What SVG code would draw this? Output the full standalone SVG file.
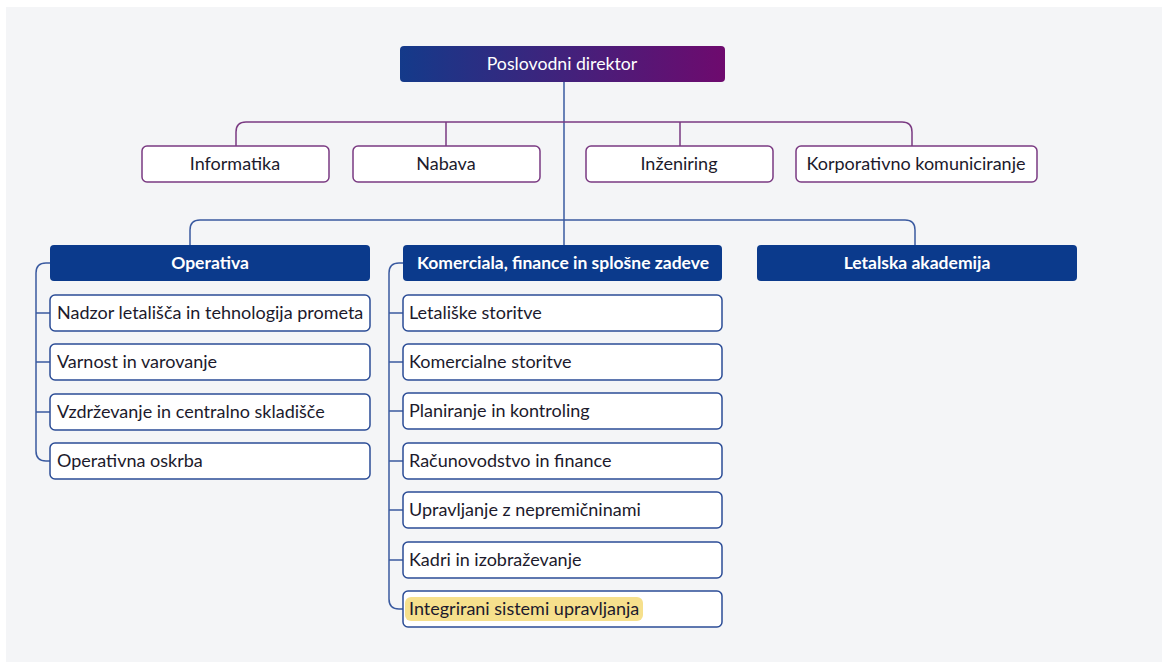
<svg xmlns="http://www.w3.org/2000/svg" width="1162" height="662" viewBox="0 0 1162 662">
<defs>
<linearGradient id="gTop" x1="0" y1="0" x2="1" y2="0">
<stop offset="0" stop-color="#143a8a"/>
<stop offset="1" stop-color="#6e0a6e"/>
</linearGradient>
</defs>
<style>
text{font-family:Lato,"Liberation Sans",Arial,sans-serif;font-size:18px;fill:#1c1a2c}
.hd{fill:#ffffff;font-weight:bold;font-size:17.5px}
.mid{text-anchor:middle}
.pbox{fill:#ffffff;stroke:#7a3a82;stroke-width:1.5}
.bbox{fill:#ffffff;stroke:#2b4c96;stroke-width:1.5}
.hbox{fill:#0b3a8c}
.pl{fill:none;stroke:#7a3a82;stroke-width:1.5}
.bl{fill:none;stroke:#3a5aa0;stroke-width:1.5}
</style>
<rect x="6" y="7" width="1156" height="655" fill="#f4f5f7"/>
<g id="connectors">
<path class="bl" d="M564 82 V245"/>
<path class="pl" d="M236 146 V132 Q236 122 246 122 H902 Q912 122 912 132 V146"/>
<path class="pl" d="M446 122 V146 M680 122 V146"/>
<path class="bl" d="M190 245 V230 Q190 220 200 220 H905 Q915 220 915 230 V245"/>
<path class="bl" d="M50 263 H46 Q36 263 36 273 V451 Q36 461 46 461 H50"/>
<path class="bl" d="M36 313 H50 M36 362 H50 M36 412 H50"/>
<path class="bl" d="M403 263 H399 Q389 263 389 273 V599 Q389 609 399 609 H403"/>
<path class="bl" d="M389 313 H403 M389 362 H403 M389 411 H403 M389 461 H403 M389 510 H403 M389 560 H403"/>
</g>
<g id="n-direktor">
<rect x="400" y="46" width="325" height="36" rx="4" fill="url(#gTop)"/>
<text class="hd mid" x="562" y="70" style="font-weight:normal;font-size:17.7px">Poslovodni direktor</text>
</g>
<g id="n-informatika">
<rect class="pbox" x="142" y="146" width="187" height="36" rx="5"/>
<text class="mid" x="235" y="170">Informatika</text>
</g>
<g id="n-nabava">
<rect class="pbox" x="353" y="146" width="187" height="36" rx="5"/>
<text class="mid" x="446" y="170">Nabava</text>
</g>
<g id="n-inzeniring">
<rect class="pbox" x="586" y="146" width="187" height="36" rx="5"/>
<text class="mid" x="679" y="170">Inženiring</text>
</g>
<g id="n-korporativno">
<rect class="pbox" x="796" y="146" width="241" height="36" rx="5"/>
<text class="mid" x="916" y="170">Korporativno komuniciranje</text>
</g>
<g id="n-operativa">
<rect class="hbox" x="50" y="245" width="320" height="36" rx="4"/>
<text class="hd mid" x="210" y="269">Operativa</text>
</g>
<g id="n-komerciala">
<rect class="hbox" x="403" y="245" width="319" height="36" rx="4"/>
<text class="hd mid" x="563" y="269">Komerciala, finance in splošne zadeve</text>
</g>
<g id="n-letalska">
<rect class="hbox" x="757" y="245" width="320" height="36" rx="4"/>
<text class="hd mid" x="917" y="269">Letalska akademija</text>
</g>
<g id="n-nadzor">
<rect class="bbox" x="50" y="295" width="320" height="36" rx="5"/>
<text x="57" y="319">Nadzor letališča in tehnologija prometa</text>
</g>
<g id="n-varnost">
<rect class="bbox" x="50" y="344" width="320" height="36" rx="5"/>
<text x="57" y="368">Varnost in varovanje</text>
</g>
<g id="n-vzdrzevanje">
<rect class="bbox" x="50" y="394" width="320" height="36" rx="5"/>
<text x="57" y="418">Vzdrževanje in centralno skladišče</text>
</g>
<g id="n-oskrba">
<rect class="bbox" x="50" y="443" width="320" height="36" rx="5"/>
<text x="57" y="467">Operativna oskrba</text>
</g>
<g id="n-letaliske">
<rect class="bbox" x="403" y="295" width="319" height="36" rx="5"/>
<text x="409" y="319">Letališke storitve</text>
</g>
<g id="n-komercialne">
<rect class="bbox" x="403" y="344" width="319" height="36" rx="5"/>
<text x="409" y="368">Komercialne storitve</text>
</g>
<g id="n-planiranje">
<rect class="bbox" x="403" y="393" width="319" height="36" rx="5"/>
<text x="409" y="417">Planiranje in kontroling</text>
</g>
<g id="n-racunovodstvo">
<rect class="bbox" x="403" y="443" width="319" height="36" rx="5"/>
<text x="409" y="467">Računovodstvo in finance</text>
</g>
<g id="n-upravljanje">
<rect class="bbox" x="403" y="492" width="319" height="36" rx="5"/>
<text x="409" y="516">Upravljanje z nepremičninami</text>
</g>
<g id="n-kadri">
<rect class="bbox" x="403" y="542" width="319" height="36" rx="5"/>
<text x="409" y="566">Kadri in izobraževanje</text>
</g>
<g id="n-integrirani">
<rect class="bbox" x="403" y="591" width="319" height="36" rx="5"/>
<rect x="405" y="597" width="238" height="24" rx="6" fill="#f6e08c"/>
<text x="409" y="615">Integrirani sistemi upravljanja</text>
</g>
</svg>
